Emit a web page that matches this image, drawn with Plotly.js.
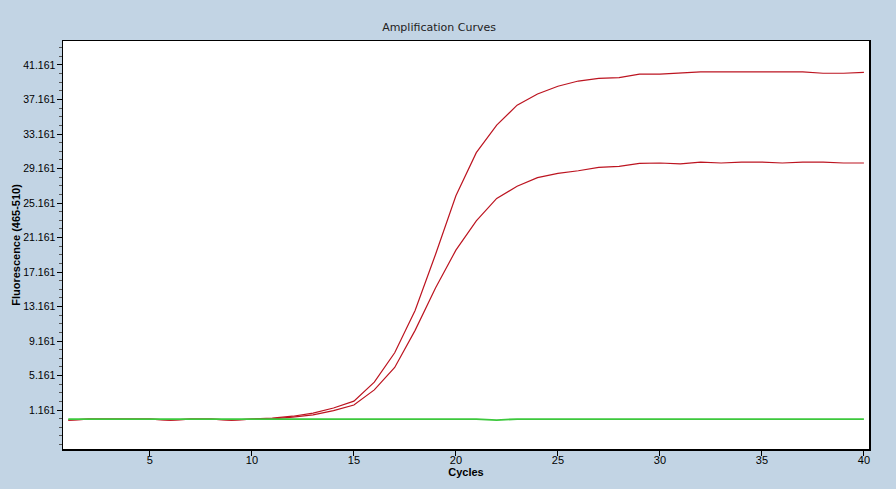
<!DOCTYPE html>
<html>
<head>
<meta charset="utf-8">
<script src="https://cdn.plot.ly/plotly-3.0.1.min.js"></script>
<style>html,body{margin:0;padding:0;background:#C2D4E4;}#chart{width:896px;height:489px;}</style>
</head>
<body>
<div id="chart"></div>
<script>
const cycles = [1,2,3,4,5,6,7,8,9,10,11,12,13,14,15,16,17,18,19,20,21,22,23,24,25,26,27,28,29,30,31,32,33,34,35,36,37,38,39,40];
const sampleA = [0.0,0.12,0.12,0.12,0.12,0.0,0.12,0.12,0.0,0.12,0.22,0.45,0.8,1.4,2.2,4.4,7.8,12.7,19.2,26.0,31.0,34.2,36.5,37.8,38.7,39.3,39.6,39.7,40.1,40.1,40.2,40.35,40.35,40.35,40.43,40.43,40.35,40.2,40.2,40.3];
const sampleB = [0.0,0.12,0.12,0.12,0.12,0.0,0.12,0.12,0.0,0.12,0.15,0.35,0.6,1.1,1.75,3.5,6.1,10.4,15.3,19.7,23.1,25.7,27.1,28.1,28.6,28.9,29.3,29.4,29.75,29.8,29.7,29.9,29.8,29.9,29.9,29.8,29.9,29.9,29.8,29.8];
const negative = [0.12,0.12,0.12,0.12,0.12,0.12,0.12,0.12,0.12,0.12,0.12,0.12,0.12,0.12,0.12,0.12,0.12,0.12,0.12,0.12,0.12,0.0,0.12,0.12,0.12,0.12,0.12,0.12,0.12,0.12,0.12,0.12,0.12,0.12,0.12,0.12,0.12,0.12,0.12,0.12];
const yTicks = [1.161,5.161,9.161,13.161,17.161,21.161,25.161,29.161,33.161,37.161,41.161];
const yTickText = ["1.161","5.161","9.161","13.161","17.161","21.161","25.161","29.161","33.161","37.161","41.161"];
const xTicks = [5,10,15,20,25,30,35,40];

const red = '#BC1420';
const traces = [
  {x: cycles, y: sampleB, mode: 'lines', line: {color: red, width: 1.2}, hoverinfo: 'skip'},
  {x: cycles, y: sampleA, mode: 'lines', line: {color: red, width: 1.2}, hoverinfo: 'skip'},
  {x: cycles, y: negative, mode: 'lines', line: {color: '#3CC83C', width: 1.8}, hoverinfo: 'skip'}
];
const font = {family: 'Liberation Sans, Arial, sans-serif', size: 11, color: '#000'};
const layout = {
  width: 896, height: 489,
  paper_bgcolor: '#C2D4E4', plot_bgcolor: '#FFFFFF',
  margin: {l: 63, r: 27, t: 41, b: 40},
  showlegend: false,
  font: font,
  title: {text: 'Amplification Curves', font: {family: 'DejaVu Sans, sans-serif', size: 11, color: '#222'}, xref: 'container', x: 0.49, xanchor: 'center', y: 0.945, yanchor: 'middle'},
  xaxis: {
    range: [0.74, 40.25], tickvals: xTicks, ticks: 'outside', ticklen: 5, tickcolor: '#000',
    showgrid: false, zeroline: false, showline: true, linecolor: '#000', linewidth: 1.5, mirror: true,
    tickfont: font, ticklabelstandoff: -5,
    title: {text: '<b>Cycles</b>', font: {family: 'Liberation Sans, Arial, sans-serif', size: 11, color: '#000'}, standoff: 0}
  },
  yaxis: {
    range: [-3.35, 43.94], tickvals: yTicks, ticktext: yTickText, ticks: 'outside', ticklen: 5, tickcolor: '#000',
    minor: {dtick: 1, tick0: 0.161, ticks: 'outside', ticklen: 3, tickcolor: '#555', showgrid: false},
    showgrid: false, zeroline: false, showline: true, linecolor: '#000', linewidth: 1.5, mirror: true,
    tickfont: {family: 'Liberation Sans, Arial, sans-serif', size: 10.5, color: '#000'}, ticklabelstandoff: -1,
    title: {text: '<b>Fluorescence (465-510)</b>', font: {family: 'Liberation Sans, Arial, sans-serif', size: 11, color: '#000'}, standoff: 0}
  }
};
Plotly.newPlot('chart', traces, layout, {displayModeBar: false, staticPlot: true});
</script>
</body>
</html>
